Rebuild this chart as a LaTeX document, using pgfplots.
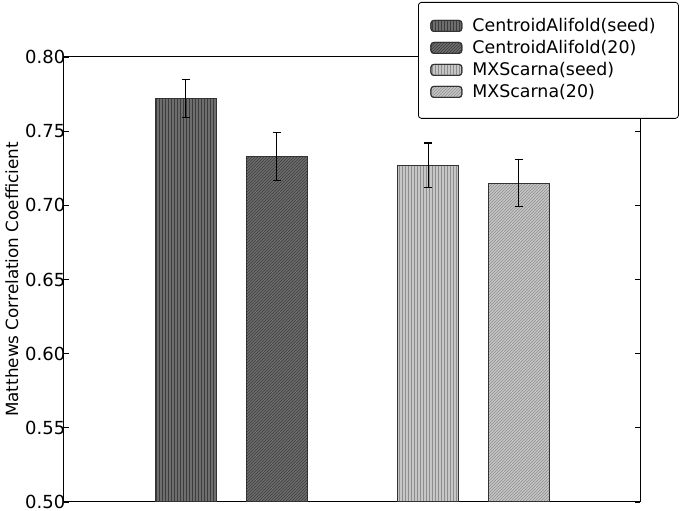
\documentclass[border=0pt]{standalone}
\usepackage{pgfplots}
\pgfplotsset{compat=1.18}
\usetikzlibrary{patterns}
\usepackage{fontspec}
\setmainfont{DejaVu Sans}
\definecolor{darkbar}{HTML}{6E6E6E}
\definecolor{darkline}{HTML}{3C3C3C}
\definecolor{lightbar}{HTML}{C6C6C6}
\definecolor{lightline}{HTML}{8E8E8E}
\definecolor{edge}{HTML}{333333}
\begin{document}
\begin{tikzpicture}[x=1pt,y=1pt]
\path[use as bounding box] (0,0) rectangle (683,511);
\begin{axis}[
  at={(64pt,9pt)}, anchor=south west,
  scale only axis, width=576pt, height=445pt,
  xmin=0, xmax=576, ymin=0.5, ymax=0.8,
  xtick=\empty,
  ytick={0.5,0.55,0.6,0.65,0.7,0.75,0.8},
  yticklabel style={/pgf/number format/fixed, /pgf/number format/fixed zerofill, /pgf/number format/precision=2, /pgf/number format/assume math mode=true, font=\fontsize{18}{22}\selectfont, inner xsep=0pt, inner ysep=0pt, xshift=1.5pt},
  tick align=inside, ytick pos=both, major tick length=5pt,
  tick style={black, line width=0.8pt},
  axis line style={black, line width=1pt},
  ylabel={Matthews Correlation Coefficient},
  ylabel style={font=\fontsize{16.8}{20}\selectfont, at={(axis description cs:-0.0903,0.5)}, anchor=center},
  legend style={at={(rel axis cs:0.6146,1.1236)}, anchor=north west, draw=black, line width=0.8pt,
     rounded corners=3pt, fill=white, font=\fontsize{17.4}{20}\selectfont,
     inner xsep=12pt, inner ysep=14pt, row sep=0pt,
     nodes={text height=10.5pt, text depth=3pt, inner ysep=4.25pt}},
  legend cell align=left,
  legend image code/.code={\draw[#1] (0pt,-4pt) rectangle (31pt,7pt);},
]
\addplot[ybar, bar width=61, bar shift=0pt, fill=darkbar, draw=edge, line width=1pt,
  postaction={pattern=vertical lines, pattern color=darkline}] coordinates {(121.5,0.772)};
\addlegendentry{\makebox[200pt][l]{\hspace*{8pt}CentroidAlifold(seed)}}
\addplot[ybar, bar width=61, bar shift=0pt, fill=darkbar, draw=edge, line width=1pt,
  postaction={pattern=north east lines, pattern color=darkline}] coordinates {(212.5,0.733)};
\addlegendentry{\makebox[200pt][l]{\hspace*{8pt}CentroidAlifold(20)}}
\addplot[ybar, bar width=61, bar shift=0pt, fill=lightbar, draw=edge, line width=1pt,
  postaction={pattern=vertical lines, pattern color=lightline}] coordinates {(364.2,0.727)};
\addlegendentry{\makebox[200pt][l]{\hspace*{8pt}MXScarna(seed)}}
\addplot[ybar, bar width=61, bar shift=0pt, fill=lightbar, draw=edge, line width=1pt,
  postaction={pattern=north east lines, pattern color=lightline}] coordinates {(454.8,0.715)};
\addlegendentry{\makebox[200pt][l]{\hspace*{8pt}MXScarna(20)}}
\addplot[forget plot, draw=none, mark=none,
  error bars/.cd, y dir=both, y explicit,
  error bar style={line width=1.2pt, draw=black},
  error mark options={rotate=90, mark size=4pt, line width=1.2pt, draw=black}]
  coordinates {
  (121.5,0.772) +- (0,0.013)
  (212.5,0.733) +- (0,0.016)
  (364.2,0.727) +- (0,0.015)
  (454.8,0.715) +- (0,0.016)
  };
\end{axis}
\end{tikzpicture}
\end{document}
